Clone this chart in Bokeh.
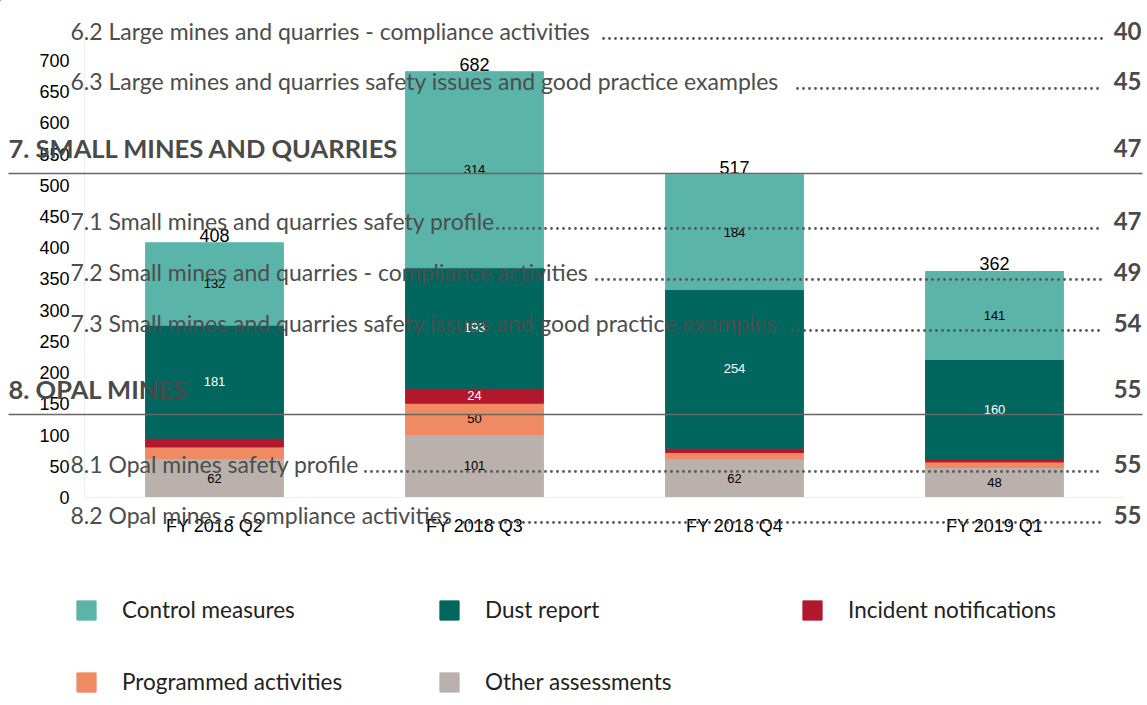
from bokeh.plotting import figure
from bokeh.models import (FactorRange, Range1d, FixedTicker, Legend, LegendItem,
                          ColumnDataSource, GridBox, Column)
from bokeh.core.properties import value
from bokeh.embed import file_html
from bokeh.resources import INLINE

# ---------------- data ----------------
quarters = ["FY 2018 Q2", "FY 2018 Q3", "FY 2018 Q4", "FY 2019 Q1"]
other_assessments = [62, 101, 62, 48]
programmed_activities = [19, 50, 10, 9]
incident_notifications = [14, 24, 7, 4]
dust_report = [181, 193, 254, 160]
control_measures = [132, 314, 184, 141]
y_ticks = [0, 50, 100, 150, 200, 250, 300, 350, 400, 450, 500, 550, 600, 650, 700]

# overlaid table-of-contents text
toc_titles = [
    "6.2 Large mines and quarries - compliance activities",
    "6.3 Large mines and quarries safety issues and good practice examples",
    "7. SMALL MINES AND QUARRIES",
    "7.1 Small mines and quarries safety profile",
    "7.2 Small mines and quarries - compliance activities",
    "7.3 Small mines and quarries safety issues and good practice examples",
    "8. OPAL MINES",
    "8.1 Opal mines safety profile",
    "8.2 Opal mines - compliance activities",
]
toc_pages = ["40", "45", "47", "47", "49", "54", "55", "55", "55"]
toc_is_heading = [False, False, True, False, False, False, True, False, False]

# ---------------- layout (page pixels) ----------------
W, H = 1147, 705
toc_y = [31, 81, 148, 221, 272, 323, 389, 464, 515]
toc_leader_start = [603, 797, None, 497, 596, 792, None, 365, 463]

series = [
    ("Other assessments", other_assessments, "#BAB1AC", "#000000"),
    ("Programmed activities", programmed_activities, "#F08A62", "#000000"),
    ("Incident notifications", incident_notifications, "#B3172E", "#ffffff"),
    ("Dust report", dust_report, "#00665E", "#ffffff"),
    ("Control measures", control_measures, "#5BB4AA", "#000000"),
]
colors = {s[0]: s[2] for s in series}

# ---------------- bar chart ----------------
p = figure(width=W, height=H, x_range=FactorRange(*quarters),
           y_range=Range1d(0, 732), output_backend="svg", toolbar_location=None,
           min_border_left=84, min_border_right=23, min_border_top=40,
           min_border_bottom=208)
p.outline_line_color = None
p.xgrid.grid_line_color = None
p.ygrid.grid_line_color = None

data = {"quarter": quarters}
for name, vals, _, _ in series:
    data[name] = vals
src = ColumnDataSource(data)
renderers = p.vbar_stack([s[0] for s in series], x="quarter", width=0.53,
                         color=[s[2] for s in series], source=src)

lx, ly, lt, lc = [], [], [], []
bottoms = [0] * len(quarters)
for name, vals, _, tcol in series:
    for i, v in enumerate(vals):
        if v >= 24:
            lx.append(quarters[i])
            ly.append(bottoms[i] + v / 2)
            lt.append(str(v))
            lc.append(tcol)
        bottoms[i] += v
p.text(x=lx, y=ly, text=lt, text_color=lc, text_align="center",
       text_baseline="middle", text_font=value("Liberation Sans"),
       text_font_size="13px")
totals = bottoms[:]
p.text(x=quarters, y=totals, text=[str(t) for t in totals], text_color="#000000",
       text_align="center", text_baseline="bottom", y_offset=-1,
       text_font=value("Liberation Sans"), text_font_size="18px")

p.yaxis.ticker = FixedTicker(ticks=y_ticks)
for ax in (p.xaxis[0], p.yaxis[0]):
    ax.axis_line_color = "#eeeeee"
    ax.major_tick_line_color = None
    ax.minor_tick_line_color = None
    ax.major_label_text_font = "Liberation Sans"
    ax.major_label_text_font_size = "18px"
    ax.major_label_text_color = "#000000"
p.yaxis.major_label_standoff = 9
p.xaxis.major_label_standoff = 12

# ---------------- overlay (TOC text + legend) ----------------
o = figure(width=W, height=H, x_range=Range1d(0, W), y_range=Range1d(H, 0),
           output_backend="svg", toolbar_location=None,
           min_border_left=0, min_border_right=0, min_border_top=0,
           min_border_bottom=0)
o.axis.visible = False
o.grid.grid_line_color = None
o.outline_line_color = None
o.background_fill_alpha = 0
o.border_fill_alpha = 0

sub_x, sub_y, sub_t = [], [], []
head_x, head_y, head_t = [], [], []
dot_x0, dot_x1, dot_y = [], [], []
rule_y = []
for title, yc, head, ls in zip(toc_titles, toc_y, toc_is_heading, toc_leader_start):
    if head:
        head_x.append(8); head_y.append(yc - 1); head_t.append(title)
        rule_y.append(yc + 25)
    else:
        sub_x.append(70); sub_y.append(yc - 1); sub_t.append(title)
        dot_x0.append(ls); dot_x1.append(1102); dot_y.append(yc + 7)

o.text(x=sub_x, y=sub_y, text=sub_t, text_baseline="middle",
       text_font=value("Lato"), text_font_size="23px", text_color="#4d4d4d")
o.text(x=head_x, y=head_y, text=head_t, text_baseline="middle",
       text_font=value("Lato"), text_font_style="bold", text_font_size="25.5px",
       text_color="#4a4a4a")
o.text(x=[1141] * len(toc_pages), y=[y - 1 for y in toc_y], text=toc_pages,
       text_align="right", text_baseline="middle", text_font=value("Lato"),
       text_font_style="bold", text_font_size="24px", text_color="#4a4a4a")
o.segment(x0=dot_x0, x1=dot_x1, y0=dot_y, y1=dot_y, line_color="#555555",
          line_width=2.8, line_dash="0 6", line_cap="round")
o.segment(x0=[8] * len(rule_y), x1=[1142] * len(rule_y), y0=rule_y, y1=rule_y,
          line_color="#666666", line_width=1.5)

# legend (proxy swatches with the series colours, drawn off-canvas)
order = ["Control measures", "Dust report", "Incident notifications",
         "Programmed activities", "Other assessments"]
items = []
for n in order:
    r = o.vbar(x=[-500], top=[-500], bottom=[-600], width=1, color=colors[n])
    items.append(LegendItem(label=n, renderers=[r]))
legend = Legend(items=items, location=(74, H - 695), orientation="horizontal",
                ncols=3, glyph_width=24, glyph_height=24, label_standoff=24,
                label_width=270, label_height=24, spacing=45, padding=0,
                margin=0, border_line_color=None, background_fill_alpha=0,
                label_text_font="Lato", label_text_font_size="22.5px",
                label_text_color="#222222")
o.add_layout(legend)

grid = GridBox(children=[(Column(children=[p]), 0, 0),
                         (Column(children=[o]), 0, 0)])
open("out.html", "w").write(file_html(grid, INLINE))
